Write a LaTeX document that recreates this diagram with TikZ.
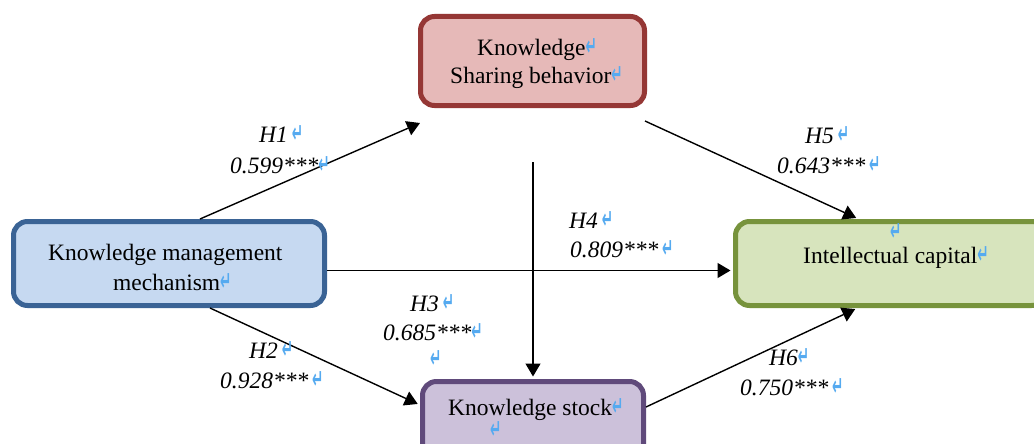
\documentclass[tikz,border=0pt]{standalone}
\usepackage{fontspec}
\usepackage{graphicx}
\setmainfont{Liberation Serif}
\newfontfamily\retfont{DejaVu Sans Bold}
\usetikzlibrary{arrows.meta}
\definecolor{ksbfill}{HTML}{E6B9B8}
\definecolor{ksbdraw}{HTML}{953735}
\definecolor{kmmfill}{HTML}{C6D9F1}
\definecolor{kmmdraw}{HTML}{3A6395}
\definecolor{icfill}{HTML}{D7E4BD}
\definecolor{icdraw}{HTML}{77933C}
\definecolor{ksfill}{HTML}{CCC1DA}
\definecolor{ksdraw}{HTML}{604A7B}
\definecolor{retblue}{HTML}{55AAF0}
\newcommand\retm{\textcolor{retblue}{\scalebox{0.5}[1]{\retfont\fontsize{27}{27}\selectfont ↵}}}
\begin{document}
\begin{tikzpicture}[x=1pt,y=-1pt,
  box/.style={rectangle, rounded corners=14pt, line width=5pt, inner sep=0pt},
  txt/.style={anchor=base west, inner sep=0pt, font=\fontsize{23.5}{30}\selectfont},
  lab/.style={anchor=base west, inner sep=0pt, font=\fontsize{23.5}{30}\selectfont\itshape},
  retnode/.style={anchor=base west, inner sep=0pt},
  arr/.style={line width=1.4pt, -{Triangle[length=13pt,width=15pt]}},
]
\clip (0,0) rectangle (1034,444);
\fill[white] (0,0) rectangle (1034,444);
% boxes
\node[box, fill=ksbfill, draw=ksbdraw, minimum width=224pt, minimum height=89pt] (ksb) at (532.5,61) {};
\node[box, fill=kmmfill, draw=kmmdraw, minimum width=311pt, minimum height=84pt] (kmm) at (169,263.5) {};
\node[box, fill=icfill, draw=icdraw, minimum width=310pt, minimum height=84pt] (ic) at (890.5,263.5) {};
\node[box, fill=ksfill, draw=ksdraw, minimum width=221pt, minimum height=89pt] (ks) at (533,426) {};
% free ends
\coordinate (h1e) at (420,123);
\coordinate (h3s) at (533,162);
\coordinate (h5s) at (645,121);
% connectors
\draw[arr] ([xshift=31pt]kmm.north) -- (h1e);
\draw[arr, shorten >=2.5pt] ([xshift=41pt]kmm.south) -- ([yshift=21pt]ks.west);
\draw[arr, shorten >=2.5pt] (h3s) -- (ks.north);
\draw[arr, shorten >=2.5pt] ([yshift=-7pt]kmm.east) -- ([yshift=-7pt]ic.west);
\draw[arr, shorten >=2.5pt] (h5s) -- ([xshift=-32pt]ic.north);
\draw[arr, shorten >=2.5pt] ([yshift=19pt]ks.east) -- ([xshift=-33pt]ic.south);
% box texts
\node[txt] (ksb1) at (477,56) {Knowledge\retm};
\node[txt] (ksb2) at (450,84) {Sharing behavior\retm};
\node[txt] (kmm1) at (48,260) {Knowledge management};
\node[txt] (kmm2) at (113,290) {mechanism\retm};
\node[txt] (ic1) at (803,263) {Intellectual capital\retm};
\node[retnode] (ic0) at (890,240) {\retm};
\node[txt] (ks1) at (448,415) {Knowledge stock\retm};
\node[retnode] (ks0) at (490,438) {\retm};
% labels
\node[lab] (h1a) at (259,142) {H1\,\retm};
\node[lab] (h1b) at (230,173) {0.599***\retm};
\node[lab] (h5a) at (805,143) {H5\,\retm};
\node[lab] (h5b) at (777,173) {0.643***\,\retm};
\node[lab] (h4a) at (569,228) {H4\,\retm};
\node[lab] (h4b) at (570,257) {0.809***\,\retm};
\node[lab] (h3a) at (410,311) {H3\,\retm};
\node[lab] (h3b) at (383,340) {0.685***\retm};
\node[retnode] (h3c) at (430,367) {\retm};
\node[lab] (h2a) at (249,358) {H2\,\retm};
\node[lab] (h2b) at (220,388) {0.928***\,\retm};
\node[lab] (h6a) at (769,365) {H6\retm};
\node[lab] (h6b) at (740,395) {0.750***\,\retm};
\end{tikzpicture}
\end{document}
